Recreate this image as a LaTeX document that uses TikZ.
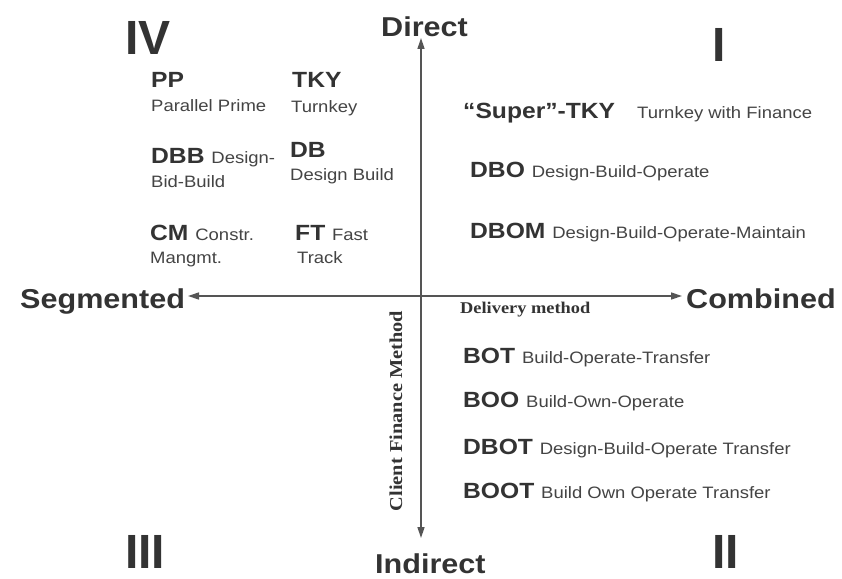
\documentclass[tikz,border=0pt]{standalone}
\usepackage{fontspec}
\setmainfont{Liberation Sans}[FakeStretch=1.12]
\newfontfamily\numeralfont{Liberation Sans}
\newfontfamily\serifbold{Liberation Serif}[FakeStretch=1.12]
\usetikzlibrary{arrows.meta}
\definecolor{ink}{HTML}{333333}
\definecolor{inklight}{HTML}{444444}
\definecolor{axisgrey}{HTML}{555555}
\newcommand{\ds}[1]{{\mdseries\fontsize{16.5}{18}\selectfont\color{inklight}#1}}
\begin{document}
\begin{tikzpicture}[x=1pt,y=-1pt,
  abbr/.style={font=\fontsize{22}{24}\selectfont\bfseries, text=ink, anchor=base west, inner sep=0pt},
  desc/.style={font=\fontsize{16.5}{18}\selectfont, text=inklight, anchor=base west, inner sep=0pt},
  pole/.style={font=\fontsize{27.3}{30}\selectfont\bfseries, text=ink, anchor=base west, inner sep=0pt},
  quadrant/.style={font=\numeralfont\bfseries\fontsize{48}{50}\selectfont, text=ink, anchor=base west, inner sep=0pt},
  axislabel/.style={font=\serifbold\bfseries\fontsize{16.4}{18}\selectfont, text=ink, inner sep=0pt},
  axis/.style={draw=axisgrey, line width=1.4pt, {Triangle[length=11pt,width=7pt]}-{Triangle[length=11pt,width=7pt]}}]
\useasboundingbox[fill=white] (0,0) rectangle (842,578);

% axis end points
\coordinate (top) at (421,38);
\coordinate (bottom) at (421,538);
\coordinate (left) at (188,296);
\coordinate (right) at (682,296);

% poles
\node[pole] (direct) at (381,37) {Direct};
\node[pole] (indirect) at (375,573) {Indirect};
\node[pole] (segmented) at (20,308) {Segmented};
\node[pole] (combined) at (686,308) {Combined};

% quadrant numerals
\node[quadrant] (q4) at (125,55) {IV};
\node[quadrant] (q1) at (712,62) {I};
\node[quadrant] (q3) at (125,568) {III};
\node[quadrant] (q2) at (712,568) {II};

% axes
\draw[axis] (left) -- (right);
\draw[axis] (bottom) -- (top);

\node[axislabel, anchor=base west] (delivery) at (460,313) {Delivery method};
\node[axislabel, rotate=90, font=\serifbold\bfseries\fontsize{18.2}{20}\selectfont] (finance) at (396,411) {Client Finance Method};

% quadrant IV
\node[abbr] (pp) at (151,87) {PP};
\node[desc] (ppd) at (151,111) {Parallel Prime};
\node[abbr] (tky) at (292,87) {TKY};
\node[desc] (tkyd) at (291,112) {Turnkey};
\node[abbr] (dbb) at (151,163) {DBB \ds{Design-}};
\node[desc] (dbbd) at (151,187) {Bid-Build};
\node[abbr] (db) at (290,157) {DB};
\node[desc] (dbd) at (290,180) {Design Build};
\node[abbr] (cm) at (150,240) {CM \ds{Constr.}};
\node[desc] (cmd) at (150,263) {Mangmt.};
\node[abbr] (ft) at (295,240) {FT \ds{Fast}};
\node[desc] (ftd) at (297,263) {Track};

% quadrant I
\node[abbr] (stky) at (463,118) {“Super”-TKY};
\node[desc] (stkyd) at (637,118) {Turnkey with Finance};
\node[abbr] (dbo) at (470,177) {DBO \ds{Design-Build-Operate}};
\node[abbr] (dbom) at (470,238) {DBOM \ds{Design-Build-Operate-Maintain}};

% quadrant II
\node[abbr] (bot) at (463,363) {BOT \ds{Build-Operate-Transfer}};
\node[abbr] (boo) at (463,407) {BOO \ds{Build-Own-Operate}};
\node[abbr] (dbot) at (463,454) {DBOT \ds{Design-Build-Operate Transfer}};
\node[abbr] (boot) at (463,498) {BOOT \ds{Build Own Operate Transfer}};
\end{tikzpicture}
\end{document}
